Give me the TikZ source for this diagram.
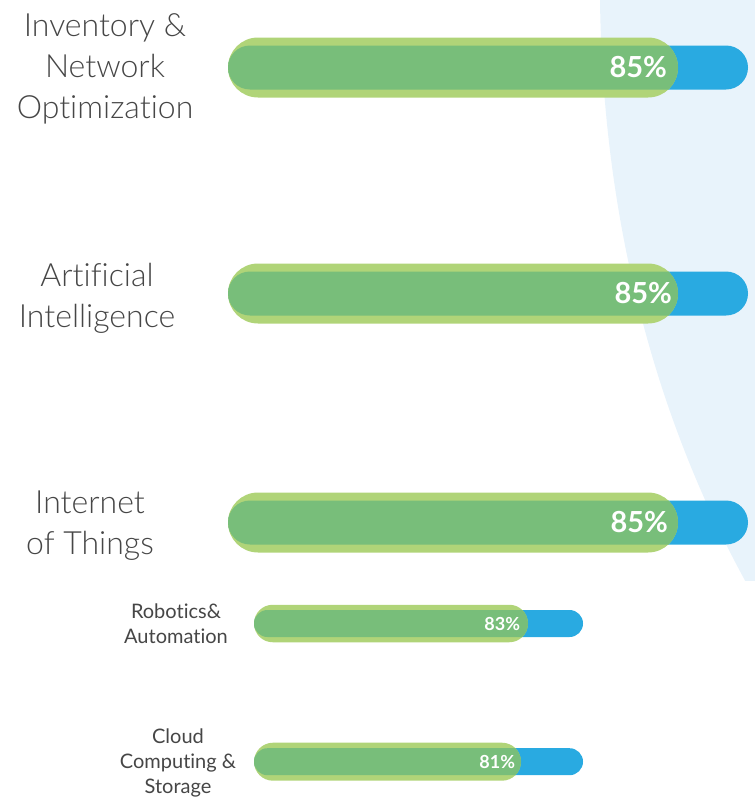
\documentclass[tikz,border=0pt]{standalone}
\usepackage{fontspec}
\setmainfont{Lato}[Ligatures=NoCommon]
\newfontfamily\labelfont{Lato}[UprightFont=* Light, Ligatures=NoCommon]
\usepackage{tikz}
\usetikzlibrary{shapes.misc,positioning}
\definecolor{trackblue}{RGB}{41,170,225}
\definecolor{pillgreen}{RGB}{176,212,120}
\definecolor{bandgreen}{RGB}{120,190,122}
\definecolor{bgblue}{RGB}{232,243,251}
\definecolor{labelgray}{RGB}{70,70,70}
\tikzset{
track/.style={rounded rectangle, fill=trackblue, inner sep=0pt, minimum height=#1}, % blue back bar
pill/.style n args={3}{rounded rectangle, fill=pillgreen, inner sep=0pt, anchor=west,
  minimum height=#1, minimum width=#2,
  path picture={\fill[bandgreen, rounded corners=#3] ([yshift=#3]path picture bounding box.west) rectangle ([xshift=40pt,yshift=-#3]path picture bounding box.east);}},
bignum/.style={anchor=east, inner sep=0pt, text=white, font=\fontsize{29}{29}\selectfont\bfseries},
smallnum/.style={anchor=east, inner sep=0pt, text=white, font=\fontsize{18}{18}\selectfont\bfseries},
biglabel/.style={align=center, text=labelgray, font=\labelfont\fontsize{32}{41}\selectfont},
smalllabel/.style={align=center, text=labelgray, font=\fontsize{20}{24.5}\selectfont},
}

\begin{document}
\begin{tikzpicture}[x=1pt,y=1pt,yscale=-1,xscale=1]
\useasboundingbox (0,0) rectangle (755,798);
%Background Arc
\begin{scope}
\clip (0,0) rectangle (755,580);
\fill[bgblue] (600,0) .. controls (603,230) and (660,450) .. (780,640) -- (780,0) -- cycle;
\end{scope}
%Rounded Rect
\node[track=44pt, minimum width=520pt] (track1) at (488,67.5) {};
\node[pill={60pt}{450pt}{22pt}] (pill1) at (track1.west) {};
\node[track=44pt, minimum width=520pt] (track2) at (488,293.5) {};
\node[pill={60pt}{450pt}{22pt}] (pill2) at (track2.west) {};
\node[track=44pt, minimum width=520pt] (track3) at (488,522.5) {};
\node[pill={60pt}{450pt}{22pt}] (pill3) at (track3.west) {};
\node[track=27pt, minimum width=329pt] (track4) at (418.5,623.5) {};
\node[pill={37.5pt}{274pt}{13.5pt}] (pill4) at (track4.west) {};
\node[track=27pt, minimum width=329pt] (track5) at (418.5,761.7) {};
\node[pill={38pt}{267pt}{13.5pt}] (pill5) at (track5.west) {};
%Values
\node[bignum] (num1) at ([xshift=-11pt]pill1.east) {85\%};
\node[bignum] (num2) at ([xshift=-6pt]pill2.east) {85\%};
\node[bignum] (num3) at ([xshift=-10pt]pill3.east) {85\%};
\node[smallnum] (num4) at ([xshift=-8pt]pill4.east) {83\%};
\node[smallnum] (num5) at ([xshift=-6pt]pill5.east) {81\%};
%Labels
\draw (105,69) node[biglabel] (label1) {Inventory \&\\Network\\Optimization};
\draw (97,298) node[biglabel] (label2) {Artificial\\Intelligence};
\draw (90,525.5) node[biglabel] (label3) {Internet\\of Things};
\draw (176,623.5) node[smalllabel] (label4) {Robotics\&\\Automation};
\draw (178,763) node[smalllabel, font=\fontsize{20}{25}\selectfont] (label5) {Cloud\\Computing \&\\Storage};
\end{tikzpicture}
\end{document}
